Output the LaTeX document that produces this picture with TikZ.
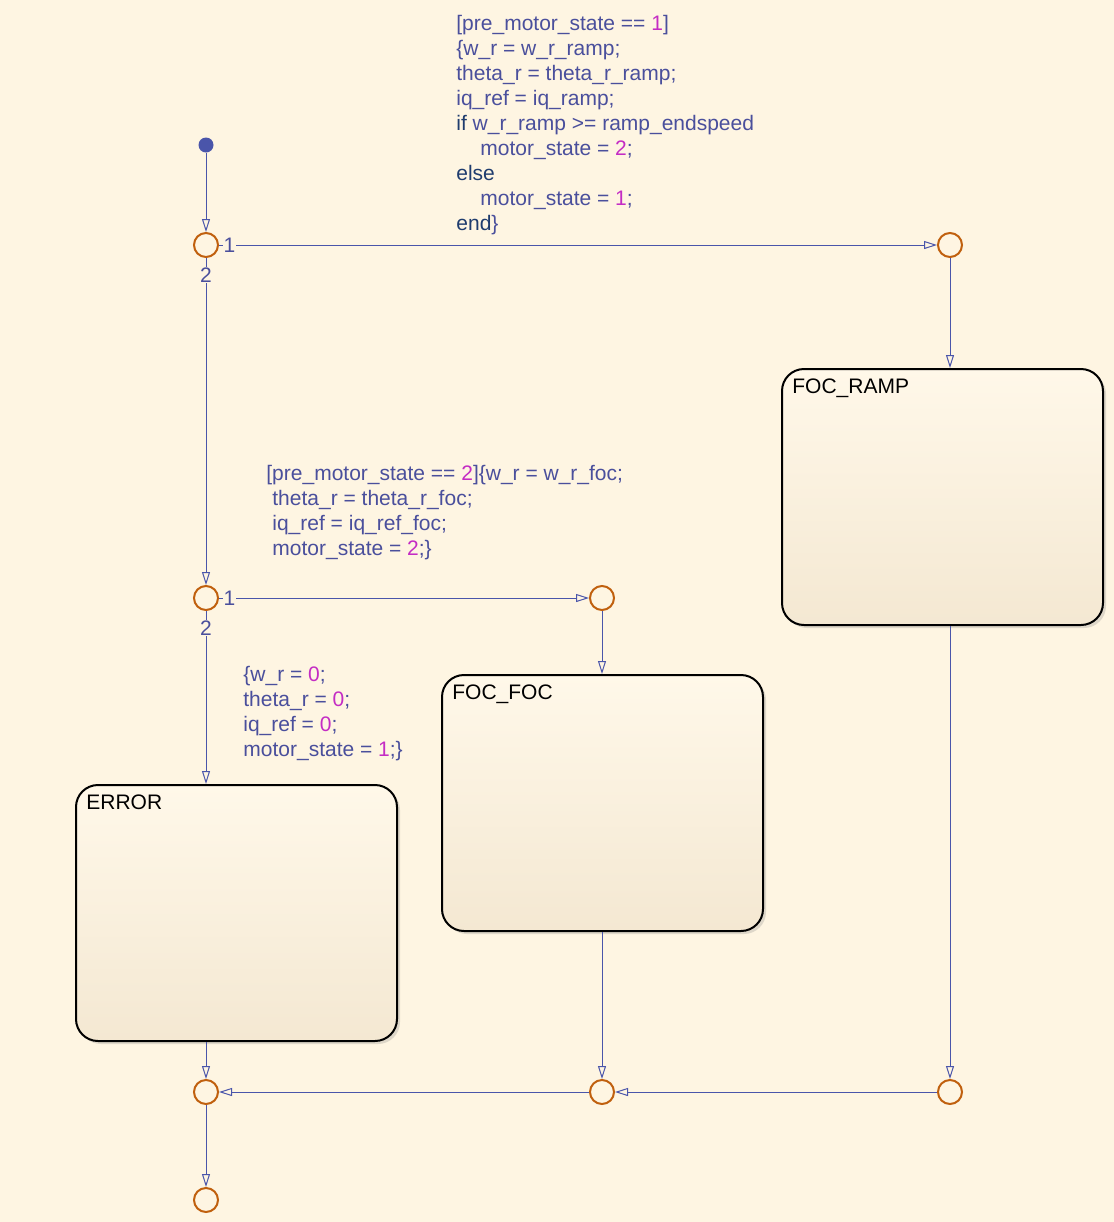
\documentclass[tikz,border=0pt]{standalone}
\usepackage{fontspec}
\setmainfont{Liberation Sans}
\usetikzlibrary{arrows.meta,shadows}

\definecolor{chartbg}{HTML}{FEF5E2}
\definecolor{chartline}{HTML}{4A55AA}
\definecolor{chartjunc}{HTML}{C0600E}
\definecolor{charttext}{HTML}{4A4F9C}
\definecolor{chartkw}{HTML}{1F3C6E}
\definecolor{chartnum}{HTML}{C42CC4}
\definecolor{statetop}{HTML}{FFF8E9}
\definecolor{statebot}{HTML}{F4E8D2}

\newcommand{\kwd}[1]{\textcolor{chartkw}{#1}}
\newcommand{\numc}[1]{\textcolor{chartnum}{#1}}

\tikzset{
  chartfont/.style={font=\fontsize{10.5}{12.5}\selectfont},
  junc/.style={circle, draw=chartjunc, line width=1pt, minimum size=12pt, inner sep=0pt},
  dflt/.style={circle, fill=chartline, minimum size=7.5pt, inner sep=0pt},
  chartstate/.style={draw=black, line width=1pt, rounded corners=11pt,
    minimum width=160.5pt, minimum height=128pt, top color=statetop, bottom color=statebot,
    drop shadow={shadow xshift=1.5pt, shadow yshift=-1.5pt, opacity=0.25}},
  statename/.style={chartfont, anchor=north west, inner sep=0pt, text=black},
  trans/.style={draw=chartline, line width=0.5pt, -{Triangle[open, length=6.5pt, width=4pt]}},
  branch/.style={chartfont, fill=chartbg, inner sep=0.5pt, text=charttext},
  code/.style={chartfont, anchor=north west, inner sep=0pt, align=left, text=charttext}
}

\begin{document}
\begin{tikzpicture}[x=0.5pt, y=-0.5pt]
  \fill[chartbg] (0,0) rectangle (1114,1222);
  \useasboundingbox (0,0) rectangle (1114,1222);

  \node[chartstate] (ramp) at (942.5,497) {};
  \node[chartstate] (foc) at (602.5,803) {};
  \node[chartstate] (error) at (236.5,913) {};
  \node[statename] (rampname) at (792,378) {FOC\_RAMP};
  \node[statename] (focname) at (452,684) {FOC\_FOC};
  \node[statename] (errorname) at (86,794) {ERROR};

  \node[dflt] (init) at (206,145) {};
  \node[junc] (j1) at (206,245) {};
  \node[junc] (j2) at (950,245) {};
  \node[junc] (j3) at (206,598) {};
  \node[junc] (j4) at (602,598) {};
  \node[junc] (j5) at (206,1092) {};
  \node[junc] (j6) at (602,1092) {};
  \node[junc] (j7) at (950,1092) {};
  \node[junc] (j8) at (206,1200) {};

  \draw[trans] (init) -- (j1);
  \draw[trans] (j1) -- (j2);
  \draw[trans] (j2) -- (j2 |- ramp.north);
  \draw[trans] (j1) -- (j3);
  \draw[trans] (j3) -- (j4);
  \draw[trans] (j4) -- (j4 |- foc.north);
  \draw[trans] (j3) -- (j3 |- error.north);
  \draw[trans] (error.south -| j5) -- (j5);
  \draw[trans] (foc.south -| j6) -- (j6);
  \draw[trans] (ramp.south -| j7) -- (j7);
  \draw[trans] (j7) -- (j6);
  \draw[trans] (j6) -- (j5);
  \draw[trans] (j5) -- (j8);

  \node[branch] (b1a) at (229.5,245) {1};
  \node[branch] (b1b) at (206,275) {2};
  \node[branch] (b3a) at (229.5,598) {1};
  \node[branch] (b3b) at (206,628) {2};

  \node[code] (rampcode) at (456,15) {[pre\_motor\_state == \numc{1}]\\
    \{w\_r = w\_r\_ramp;\\
    theta\_r = theta\_r\_ramp;\\
    iq\_ref = iq\_ramp;\\
    \kwd{if} w\_r\_ramp >= ramp\_endspeed\\
    \hspace*{12pt}motor\_state = \numc{2};\\
    \kwd{else}\\
    \hspace*{12pt}motor\_state = \numc{1};\\
    \kwd{end}\}};
  \node[code] (foccode) at (266,465) {[pre\_motor\_state == \numc{2}]\{w\_r = w\_r\_foc;\\
    \hspace*{3pt}theta\_r = theta\_r\_foc;\\
    \hspace*{3pt}iq\_ref = iq\_ref\_foc;\\
    \hspace*{3pt}motor\_state = \numc{2};\}};
  \node[code] (errorcode) at (243,666) {\{w\_r = \numc{0};\\
    theta\_r = \numc{0};\\
    iq\_ref = \numc{0};\\
    motor\_state = \numc{1};\}};
\end{tikzpicture}
\end{document}
